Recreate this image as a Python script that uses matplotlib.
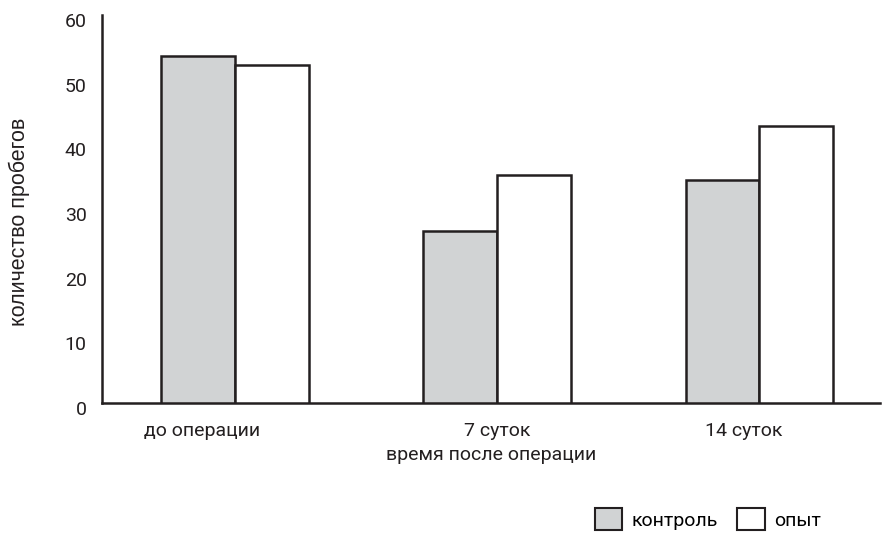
import matplotlib
matplotlib.use("Agg")
import matplotlib.pyplot as plt
import matplotlib.transforms as mtransforms
from matplotlib.patches import Patch
import numpy as np

plt.rcParams['font.family'] = ['Roboto', 'DejaVu Sans']

categories = ["до операции", "7 суток", "14 суток"]
control = [53.7, 26.6, 34.5]
experiment = [52.2, 35.2, 42.9]
series_names = ["контроль", "опыт"]
yticks = [0, 10, 20, 30, 40, 50, 60]

W, H = 883, 534
fig = plt.figure(figsize=(W / 100, H / 100), dpi=100)
ax = fig.add_axes([102 / W, (H - 403) / H, (880 - 102) / W, (403 - 15) / H])

edge = "#231f20"
txt = "#231f20"
x = np.arange(len(categories))
w = 0.282
ax.bar(x - w / 2, control, w, color="#d1d3d4", edgecolor=edge, linewidth=1.8, zorder=3)
ax.bar(x + w / 2, experiment, w, color="white", edgecolor=edge, linewidth=1.8, zorder=3)

ax.set_xlim(-0.508, 2.46)
ax.set_ylim(0, 60)
ax.set_yticks(yticks)
label_shift = np.array([-0.125, 0.0, -0.06])
ax.set_xticks(x + label_shift)
ax.set_xticklabels(categories)
ax.tick_params(axis='both', length=0, labelsize=14, colors=txt)
ax.tick_params(axis='y', pad=11)
ax.tick_params(axis='x', pad=14)
offset = mtransforms.ScaledTranslation(0, -5 / 100, fig.dpi_scale_trans)
for lbl in ax.get_yticklabels():
    lbl.set_transform(lbl.get_transform() + offset)

for s in ["top", "right"]:
    ax.spines[s].set_visible(False)
for s in ["left", "bottom"]:
    ax.spines[s].set_color(edge)
    ax.spines[s].set_linewidth(1.8)
ax.spines["left"].set_bounds(0, 60)

ax.set_xlabel("время после операции", fontsize=14, color=txt, labelpad=4)
fig.text(19 / W, 1 - 222 / H, "количество пробегов", rotation=90, fontsize=15.5,
         family=['Liberation Sans', 'DejaVu Sans'], color=txt, ha="center", va="center")

handles = [Patch(facecolor="#d1d3d4", edgecolor=edge, linewidth=1.5),
           Patch(facecolor="white", edgecolor=edge, linewidth=1.5)]
fig.legend(handles, series_names, loc="center", bbox_to_anchor=(708 / W, 1 - 519 / H),
           ncol=2, frameon=False, fontsize=14, handlelength=1.4, handleheight=1.3,
           handletextpad=0.5, columnspacing=1.0)

fig.savefig("out.png", dpi=100)
